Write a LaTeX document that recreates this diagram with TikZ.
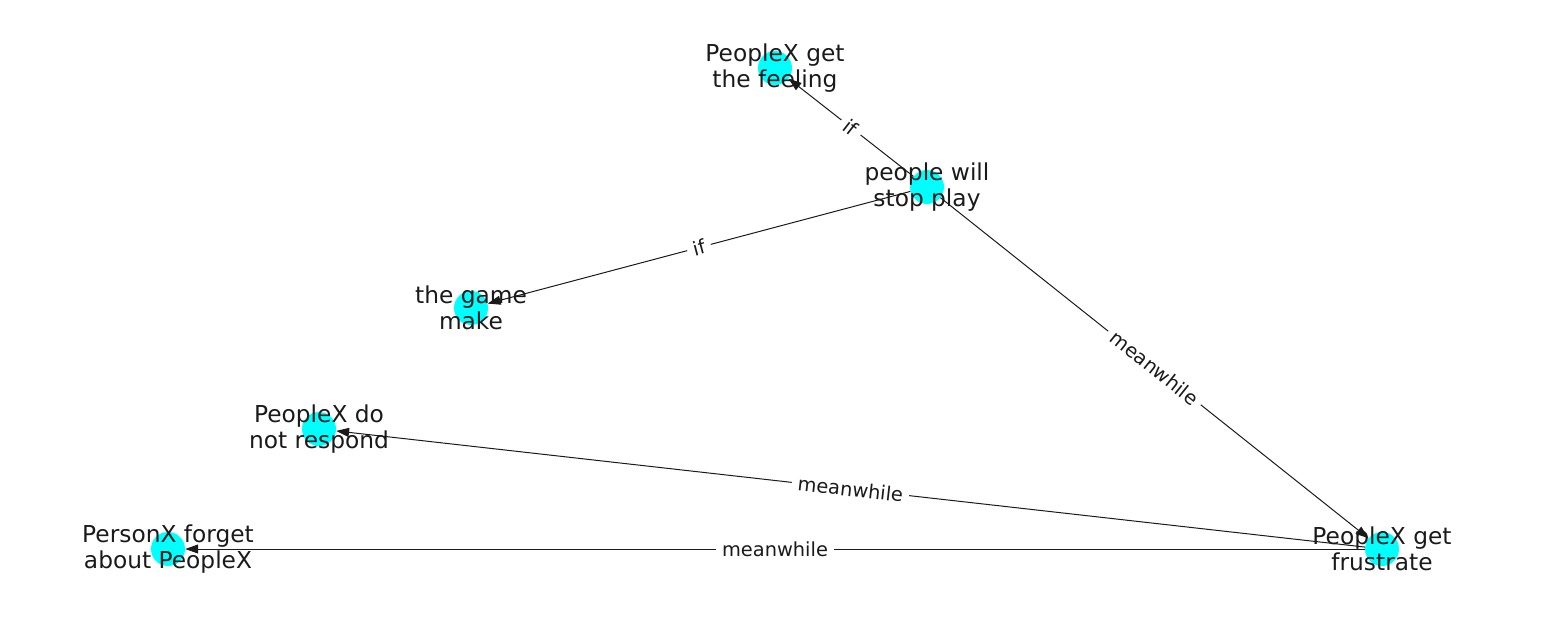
\documentclass[tikz,border=0pt]{standalone}
\usepackage{fontspec}
\setmainfont{DejaVu Sans}
\usetikzlibrary{arrows.meta}
\definecolor{ball}{HTML}{00FFFF}
\definecolor{ink}{HTML}{1A1A1A}
\newcommand{\ND}{34pt}

\begin{document}
\begin{tikzpicture}[x=1pt,y=-1pt,>={Triangle[length=13pt,width=9pt]},
  vertex/.style={circle,fill=ball,minimum size=\ND,inner sep=0pt},
  vlabel/.style={align=center,text=ink,inner sep=0pt,font=\fontsize{23.3}{26.5}\selectfont},
  link/.style={->,draw=ink,line width=1pt},
  linklabel/.style={sloped,fill=white,text=ink,inner xsep=6pt,inner ysep=2pt,font=\fontsize{19.4}{22}\selectfont}]

\useasboundingbox (0,0) rectangle (1550,616);

% ---------------- nodes ----------------------------------------------------
\node[vertex] (feel)  at (775,68)  {};
\node[vertex] (stop)  at (927,187) {};
\node[vertex] (game)  at (471,308) {};
\node[vertex] (resp)  at (319,429) {};
\node[vertex] (forg)  at (168,549) {};
\node[vertex] (frus)  at (1382,549) {};

% ---------------- relations ------------------------------------------------
\draw[link] (stop) -- node[linklabel] {if} (feel);
\draw[link] (stop) -- node[linklabel] {if} (game);
\draw[link] (stop) -- node[linklabel] {meanwhile} (frus);
\draw[link] (frus) -- node[linklabel] {meanwhile} (resp);
\draw[link] (frus) -- node[linklabel] {meanwhile} (forg);

% ---------------- texts on top ---------------------------------------------
\node[vlabel] (feelT) at (feel) {PeopleX get\\the feeling};
\node[vlabel] (stopT) at (stop) {people will\\stop play};
\node[vlabel] (gameT) at (game) {the game\\make};
\node[vlabel] (respT) at (resp) {PeopleX do\\not respond};
\node[vlabel] (forgT) at (forg) {PersonX forget\\about PeopleX};
\node[vlabel] (frusT) at (frus) {PeopleX get\\frustrate};

\end{tikzpicture}
\end{document}
